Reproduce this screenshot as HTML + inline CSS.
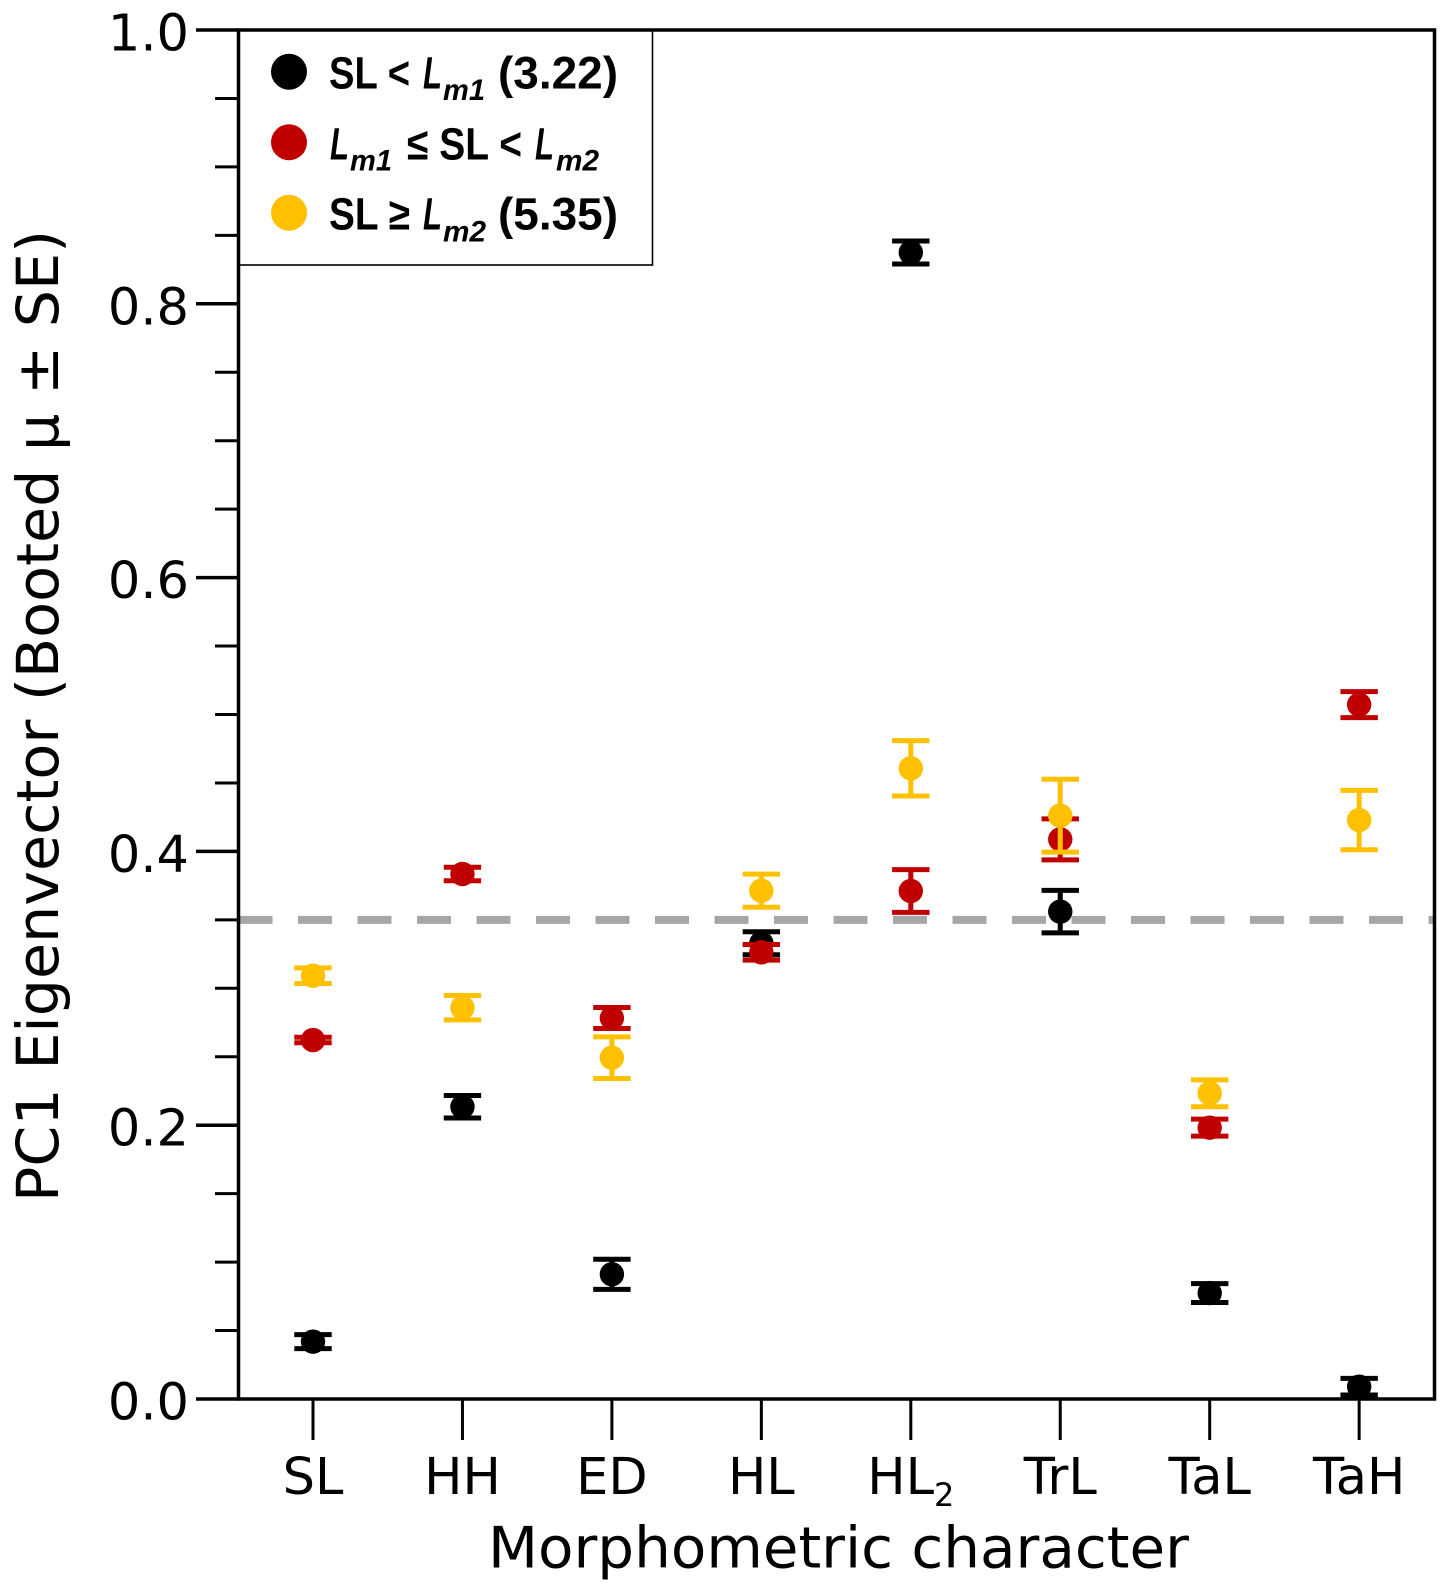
<!DOCTYPE html>
<html lang="en">
<head>
<meta charset="utf-8">
<title>PC1 Eigenvector by morphometric character</title>
<style>
  html, body { margin: 0; padding: 0; background: #fff; }
  svg { display: block; }
  .axis { font-family: "DejaVu Sans", "Liberation Sans", sans-serif; fill: #000; }
  .leg { font-family: "Liberation Sans", sans-serif; font-weight: bold; fill: #000; font-size: 45px; }
  .leg-i { font-style: italic; }
  .leg-s { font-style: italic; font-size: 30px; }
</style>
</head>
<body>
<svg id="chart" xmlns="http://www.w3.org/2000/svg" width="1449" height="1592" viewBox="0 0 1449 1592">
  <rect x="0" y="0" width="1449" height="1592" fill="#fff"/>
  <line id="refline" stroke="#a6a6a6" stroke-width="8" stroke-dasharray="34 25.5"/>
  <g id="marks"></g>
  <g id="ticks"></g>
  <g>
    <rect x="238.5" y="30" width="414" height="235" fill="#fff" stroke="#000" stroke-width="1.6"/>
    <circle cx="289" cy="71.7" r="18" fill="#000"/>
    <circle cx="289" cy="142.3" r="18" fill="#c00000"/>
    <circle cx="289" cy="212.7" r="18" fill="#ffc000"/>
    <g>
      <text class="leg" x="329" y="88.3" textLength="81" lengthAdjust="spacingAndGlyphs">SL &lt;</text>
      <text class="leg leg-i" x="423" y="88.3" textLength="19" lengthAdjust="spacingAndGlyphs">L</text>
      <text class="leg leg-s" x="443" y="100" textLength="42" lengthAdjust="spacingAndGlyphs">m1</text>
      <text class="leg" x="498" y="88.3" textLength="120" lengthAdjust="spacingAndGlyphs">(3.22)</text>
    </g>
    <g>
      <text class="leg leg-i" x="330" y="159.3" textLength="19" lengthAdjust="spacingAndGlyphs">L</text>
      <text class="leg leg-s" x="350" y="170.7" textLength="42" lengthAdjust="spacingAndGlyphs">m1</text>
      <text class="leg" x="407" y="159.3" textLength="115" lengthAdjust="spacingAndGlyphs">≤ SL &lt;</text>
      <text class="leg leg-i" x="535" y="159.3" textLength="19" lengthAdjust="spacingAndGlyphs">L</text>
      <text class="leg leg-s" x="556" y="170.7" textLength="43" lengthAdjust="spacingAndGlyphs">m2</text>
    </g>
    <g>
      <text class="leg" x="329" y="229.3" textLength="81" lengthAdjust="spacingAndGlyphs">SL ≥</text>
      <text class="leg leg-i" x="423" y="229.3" textLength="19" lengthAdjust="spacingAndGlyphs">L</text>
      <text class="leg leg-s" x="443" y="241.7" textLength="43" lengthAdjust="spacingAndGlyphs">m2</text>
      <text class="leg" x="498" y="229.3" textLength="120" lengthAdjust="spacingAndGlyphs">(5.35)</text>
    </g>
  </g>
  <rect x="238.5" y="30" width="1196" height="1369" fill="none" stroke="#000" stroke-width="3.5"/>
  <text class="axis" x="488" y="1567.7" font-size="57" textLength="701" lengthAdjust="spacingAndGlyphs">Morphometric character</text>
  <text class="axis" transform="translate(58,1202) rotate(-90)" x="0" y="0" font-size="58" textLength="972" lengthAdjust="spacingAndGlyphs">PC1 Eigenvector (Booted μ ± SE)</text>
</svg>
<script>
const categories = ['SL', 'HH', 'ED', 'HL', 'HL_2', 'TrL', 'TaL', 'TaH'];
const yMajorTicks = [0, 0.2, 0.4, 0.6, 0.8, 1.0];
const yTickLabels = ['0.0', '0.2', '0.4', '0.6', '0.8', '1.0'];
const yMinorTicks = [0.05, 0.1, 0.15, 0.25, 0.3, 0.35, 0.45, 0.5, 0.55, 0.65, 0.7, 0.75, 0.85, 0.9, 0.95];
const referenceValue = 0.35;
const smallMeans = [0.0419, 0.2135, 0.0911, 0.3329, 0.8375, 0.3560, 0.0774, 0.0090];
const smallSE = [0.0051, 0.0082, 0.0110, 0.0084, 0.0084, 0.0155, 0.0069, 0.0061];
const mediumMeans = [0.2622, 0.3835, 0.2783, 0.3263, 0.3711, 0.4088, 0.1982, 0.5072];
const mediumSE = [0.0020, 0.0049, 0.0077, 0.0057, 0.0156, 0.0150, 0.0062, 0.0095];
const largeMeans = [0.3092, 0.2858, 0.2493, 0.3713, 0.4607, 0.4261, 0.2233, 0.4229];
const largeSE = [0.0057, 0.0089, 0.0152, 0.0121, 0.0202, 0.0266, 0.0098, 0.0217];

const NS = 'http://www.w3.org/2000/svg';
const plotLeft = 238.5, plotRight = 1434.5, plotTop = 30, plotBottom = 1399;
const firstCatX = 313, catStep = 149.45;
const xScale = i => firstCatX + i * catStep;
const yScale = v => plotBottom - v * (plotBottom - plotTop);

function make(tag, attrs, parent) {
  const el = document.createElementNS(NS, tag);
  for (const k in attrs) el.setAttribute(k, attrs[k]);
  parent.appendChild(el);
  return el;
}

const refline = document.getElementById('refline');
refline.setAttribute('x1', plotLeft);
refline.setAttribute('x2', plotRight);
refline.setAttribute('y1', yScale(referenceValue));
refline.setAttribute('y2', yScale(referenceValue));

const marks = document.getElementById('marks');
const seriesList = [
  { key: 'small', color: '#000000', means: smallMeans, se: smallSE },
  { key: 'medium', color: '#c00000', means: mediumMeans, se: mediumSE },
  { key: 'large', color: '#ffc000', means: largeMeans, se: largeSE }
];
seriesList.forEach(s => {
  const g = make('g', {}, marks);
  
  
  s.means.forEach((m, i) => {
    const x = xScale(i);
    const up = yScale(m + s.se[i]);
    const lo = yScale(m - s.se[i]);
    const stem = make('line', { x1: x, x2: x, y1: up, y2: lo, stroke: s.color, 'stroke-width': 5 }, g);
    
    
    const capTop = make('line', { x1: x - 18.7, x2: x + 18.7, y1: up, y2: up, stroke: s.color, 'stroke-width': 5 }, g);
    
    
    const capBottom = make('line', { x1: x - 18.7, x2: x + 18.7, y1: lo, y2: lo, stroke: s.color, 'stroke-width': 5 }, g);
    
    
    const dot = make('circle', { cx: x, cy: yScale(m), r: 12.2, fill: s.color }, g);
    
    
  });
});

const ticks = document.getElementById('ticks');
yMajorTicks.forEach((v, i) => {
  const t = make('line', { x1: 196, x2: plotLeft, y1: yScale(v), y2: yScale(v), stroke: '#000', 'stroke-width': 3.5 }, ticks);
  
  
  const l = make('text', { class: 'axis', x: 189, y: yScale(v) + 20.5, 'font-size': 51, 'text-anchor': 'end' }, ticks);
  
  
  l.textContent = yTickLabels[i];
});
yMinorTicks.forEach(v => {
  const t = make('line', { x1: 215, x2: plotLeft, y1: yScale(v), y2: yScale(v), stroke: '#000', 'stroke-width': 3 }, ticks);
  
  
});
categories.forEach((c, i) => {
  const x = xScale(i);
  const t = make('line', { x1: x, x2: x, y1: plotBottom, y2: 1440, stroke: '#000', 'stroke-width': 3 }, ticks);
  
  
  const parts = c.split('_');
  const l = make('text', { class: 'axis', x: x, y: 1494, 'font-size': 51, 'text-anchor': 'middle' }, ticks);
  
  
  const base = make('tspan', {}, l);
  base.textContent = parts[0];
  if (parts[1]) {
    const sub = make('tspan', { dy: 12, 'font-size': 32 }, l);
    sub.textContent = parts[1];
  }
});
</script>
</body>
</html>
